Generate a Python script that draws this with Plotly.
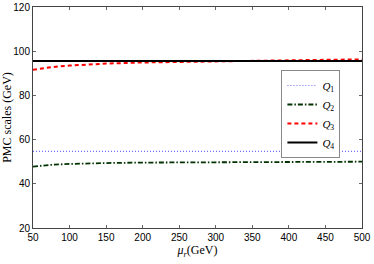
import plotly.graph_objects as go

mu = [50, 60, 75, 100, 125, 150, 200, 250, 300, 350, 400, 450, 500]
q1 = [54.7] * len(mu)
q2 = [47.8, 48.2, 48.6, 49.0, 49.25, 49.4, 49.6, 49.7, 49.8, 49.85, 49.9, 49.95, 50.0]
q3 = [91.6, 92.2, 92.8, 93.5, 94.0, 94.4, 94.9, 95.2, 95.5, 95.7, 95.9, 96.1, 96.3]
q4 = [95.6] * len(mu)

names = ["<i>Q</i><sub>1</sub>", "<i>Q</i><sub>2</sub>", "<i>Q</i><sub>3</sub>", "<i>Q</i><sub>4</sub>"]

fig = go.Figure()
fig.add_trace(go.Scatter(x=mu, y=q1, mode="lines", name=names[0],
                         line=dict(color="#6f6fff", width=1.2, dash="1px,2px")))
fig.add_trace(go.Scatter(x=mu, y=q2, mode="lines", name=names[1],
                         line=dict(color="#003300", width=1.8, dash="5px,2px,1.5px,2px")))
fig.add_trace(go.Scatter(x=mu, y=q3, mode="lines", name=names[2],
                         line=dict(color="#ff0000", width=2, dash="4px,3px")))
fig.add_trace(go.Scatter(x=mu, y=q4, mode="lines", name=names[3],
                         line=dict(color="#000000", width=2)))

axis_common = dict(showgrid=False, zeroline=False, showline=True, linecolor="#444",
                   linewidth=1, mirror="ticks", ticks="inside", ticklen=3,
                   tickcolor="#666", automargin=False,
                   tickfont=dict(family="Liberation Sans", size=10, color="#000"))

fig.update_layout(
    width=374, height=264,
    margin=dict(l=33, r=12, t=7, b=36),
    paper_bgcolor="white", plot_bgcolor="white",
    showlegend=True,
    legend=dict(x=0.755, y=0.715, xanchor="left", yanchor="top",
                bordercolor="#888", borderwidth=1, bgcolor="white",
                font=dict(family="Liberation Serif", size=11, color="#000"),
                tracegroupgap=0, itemwidth=30),
    xaxis=dict(range=[50, 500], tickvals=[50, 100, 150, 200, 250, 300, 350, 400, 450, 500],
               title=dict(text="<i>μ<sub>r</sub></i>(GeV)", standoff=0,
                          font=dict(family="Liberation Serif", size=12, color="#000")),
               **axis_common),
    yaxis=dict(range=[20, 120], tickvals=[20, 40, 60, 80, 100, 120],
               title=dict(text="PMC scales (GeV)", standoff=2,
                          font=dict(family="Liberation Serif", size=12, color="#000")),
               **axis_common),
)

fig.write_html("out.html", post_script="document.body.style.margin='0';",
               config={"displayModeBar": False})
